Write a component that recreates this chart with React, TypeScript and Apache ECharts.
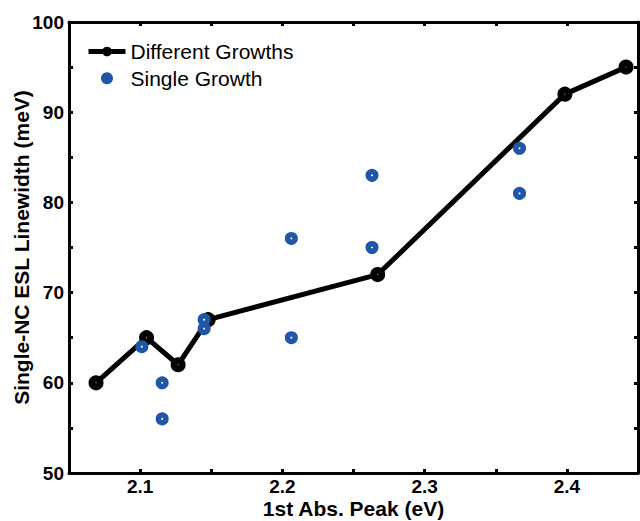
import React, { useEffect, useRef } from "react";
import * as echarts from "echarts";

const diffX = [2.069, 2.1045, 2.1267, 2.1478, 2.267, 2.3986, 2.4416];
const diffY = [60, 65, 62, 67, 72, 92, 95];
const singleX = [2.1012, 2.1155, 2.1155, 2.145, 2.145, 2.2063, 2.2063, 2.263, 2.263, 2.3667, 2.3667];
const singleY = [64, 60, 56, 67, 66, 76, 65, 83, 75, 86, 81];
const seriesNames = ["Different Growths", "Single Growth"];
const xTitle = "1st Abs. Peak (eV)";
const yTitle = "Single-NC ESL Linewidth (meV)";

const FONT = "'Liberation Sans', Arial, sans-serif";
const BLUE = "#1f56a8";

export default function App() {
  const ref = useRef<HTMLDivElement>(null);
  useEffect(() => {
    if (!ref.current) return;
    const chart = echarts.init(ref.current, null, { renderer: "svg" });
    const xFmt = (v: number) => {
      const r = Math.round(v * 100);
      return r % 10 === 0 ? (r / 100).toFixed(1) : "";
    };
    const yFmt = (v: number) => {
      const r = Math.round(v);
      return r % 10 === 0 ? String(r) : "";
    };
    const axisLine = { show: true, onZero: false, lineStyle: { color: "#000", width: 3 } };
    const tick = { show: true, inside: true, length: 4, lineStyle: { color: "#000", width: 3 } };
    chart.setOption({
      animation: false,
      backgroundColor: "#fff",
      grid: { left: 69, right: 2, top: 22, bottom: 48, containLabel: false, outerBoundsMode: "none" },
      legend: {
        left: 86,
        top: 41,
        padding: 0,
        orient: "vertical",
        itemWidth: 37,
        itemHeight: 12,
        itemGap: 5.7,
        textStyle: { fontFamily: FONT, fontSize: 21, color: "#000", lineHeight: 21 },
        data: [
          {
            name: seriesNames[0],
            itemStyle: { color: "#000", borderColor: "#000", borderWidth: 0, opacity: 1 },
            lineStyle: { color: "#000", width: 5 },
          },
          {
            name: seriesNames[1],
            itemStyle: { color: BLUE, borderColor: BLUE, borderWidth: 0, opacity: 1 },
          },
        ],
      },
      xAxis: [
        {
          type: "value",
          min: 2.05,
          max: 2.45,
          interval: 0.05,
          position: "bottom",
          axisLine,
          axisTick: tick,
          splitLine: { show: false },
          axisLabel: { formatter: xFmt, fontFamily: FONT, fontWeight: "bold", fontSize: 19, color: "#000", margin: 4 },
          name: xTitle,
          nameLocation: "middle",
          nameGap: 25,
          nameMoveOverlap: false,
          nameTextStyle: { fontFamily: FONT, fontWeight: "bold", fontSize: 21, color: "#000" },
        },
        {
          type: "value",
          min: 2.05,
          max: 2.45,
          interval: 0.05,
          position: "top",
          axisLine,
          axisTick: tick,
          splitLine: { show: false },
          axisLabel: { show: false },
        },
      ],
      yAxis: [
        {
          type: "value",
          min: 50,
          max: 100,
          interval: 5,
          position: "left",
          axisLine,
          axisTick: tick,
          splitLine: { show: false },
          axisLabel: { formatter: yFmt, fontFamily: FONT, fontWeight: "bold", fontSize: 19, color: "#000", margin: 5 },
          name: yTitle,
          nameLocation: "middle",
          nameGap: 37,
          nameMoveOverlap: false,
          nameTextStyle: { fontFamily: FONT, fontWeight: "bold", fontSize: 21, color: "#000" },
        },
        {
          type: "value",
          min: 50,
          max: 100,
          interval: 5,
          position: "right",
          axisLine,
          axisTick: tick,
          splitLine: { show: false },
          axisLabel: { show: false },
        },
      ],
      series: [
        {
          name: seriesNames[0],
          type: "line",
          data: diffX.map((x, i) => [x, diffY[i]]),
          symbol: "circle",
          symbolSize: 8,
          lineStyle: { color: "#000", width: 5 },
          itemStyle: { color: "#fff", borderColor: "#000", borderWidth: 7, opacity: 1 },
          z: 2,
        },
        {
          name: seriesNames[1],
          type: "scatter",
          data: singleX.map((x, i) => [x, singleY[i]]),
          symbol: "circle",
          symbolSize: 7.5,
          itemStyle: { color: "#fff", borderColor: BLUE, borderWidth: 5.5, opacity: 1 },
          z: 3,
        },
      ],
    });
    return () => chart.dispose();
  }, []);
  return <div ref={ref} style={{ width: 640, height: 521, position: "absolute", left: 0, top: 0 }} />;
}
